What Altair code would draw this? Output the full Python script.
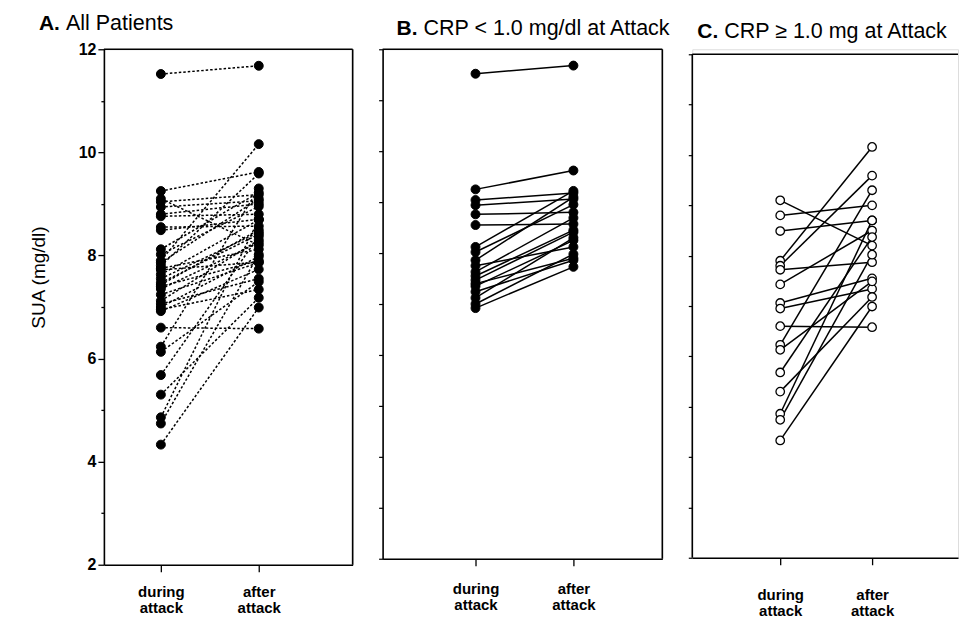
import altair as alt
import pandas as pd

# ---- data (SUA mg/dl, during attack -> after attack) ----
B_during = [11.52, 9.25, 9.04, 8.94, 8.76, 8.55, 8.12, 8.02, 7.86, 7.75, 7.63, 7.55, 7.47, 7.40, 7.35, 7.24, 7.12, 7.00, 6.92]
B_after = [11.68, 9.62, 9.18, 9.06, 8.80, 8.57, 9.22, 8.95, 9.10, 8.12, 8.69, 8.45, 8.41, 7.90, 8.25, 7.86, 8.30, 7.98, 7.73]
C_during = [9.10, 8.80, 8.49, 7.90, 7.80, 7.72, 7.43, 7.06, 6.95, 6.60, 6.23, 6.13, 5.68, 5.30, 4.86, 4.74, 4.33]
C_after = [8.20, 9.00, 8.70, 10.16, 9.59, 7.87, 8.50, 7.55, 7.34, 6.58, 9.30, 7.49, 8.37, 7.18, 8.70, 8.02, 6.99]

x_labels = ["during attack", "after attack"]
y_major = [2, 4, 6, 8, 10, 12]
panel_letters = ["A.", "B.", "C."]
panel_titles = ["All Patients", "CRP < 1.0 mg/dl at Attack", "CRP \u2265 1.0 mg at Attack"]
y_title = "SUA (mg/dl)"

FONT = "Liberation Sans"


def long_df(during, after, prefix):
    rows = []
    for i, (d, a) in enumerate(zip(during, after)):
        rows.append({"id": f"{prefix}{i}", "phase": 0, "sua": d})
        rows.append({"id": f"{prefix}{i}", "phase": 1, "sua": a})
    return pd.DataFrame(rows)


dfB = long_df(B_during, B_after, "b")
dfC = long_df(C_during, C_after, "c")
dfA = pd.concat([dfB, dfC], ignore_index=True)

lab0 = x_labels[0].split(" ")
lab1 = x_labels[1].split(" ")
label_expr = f"datum.value == 0 ? ['{lab0[0]}','{lab0[1]}'] : ['{lab1[0]}','{lab1[1]}']"


def make_panel(df, idx, xdom, width, height, ydom, dashed, open_pts, main_axis,
               label_pad, title_x, title_y, right_border, draw_left_rule):
    x_axis = alt.Axis(values=[0, 1], labelExpr=label_expr, title=None, tickSize=7,
                      tickColor="black", tickWidth=1.3, domainColor="black", domainWidth=1.6,
                      labelFont=FONT, labelFontSize=15, labelFontWeight="bold", labelColor="black",
                      labelPadding=label_pad, labelLineHeight=16, labelFlush=False,
                      labelOverlap=False, grid=False)
    if main_axis:
        y_axis = alt.Axis(values=list(range(2, 13)),
                          labelExpr="datum.value % 2 == 0 ? datum.label : ''",
                          tickSize={"condition": {"test": "datum.value % 2 == 1", "value": 3}, "value": 6},
                          tickColor="black", tickWidth=1.3, domainColor="black", domainWidth=1.6,
                          labelFont=FONT, labelFontSize=16, labelFontWeight="bold", labelColor="black",
                          labelPadding=2, grid=False, title=y_title, titleFont=FONT,
                          titleFontSize=19, titleFontWeight="normal", titleColor="black",
                          titlePadding=30, titleY=228, titleAlign="center")
    else:
        y_axis = alt.Axis(values=list(range(2, 13)), labels=False, tickSize=4,
                          tickColor="black", tickWidth=1.2, domain=not draw_left_rule,
                          domainColor="black", domainWidth=1.6, grid=False, title=None)

    x = alt.X("phase:Q", scale=alt.Scale(domain=xdom, nice=False, zero=False), axis=x_axis)
    y = alt.Y("sua:Q", scale=alt.Scale(domain=ydom, nice=False, zero=False), axis=y_axis)

    line_kw = dict(color="black", strokeWidth=1.5)
    if dashed:
        line_kw["strokeDash"] = [2.5, 2]
    lines = alt.Chart(df).mark_line(**line_kw).encode(x=x, y=y, detail="id:N")

    if open_pts:
        pts = alt.Chart(df).mark_point(shape="circle", filled=True, fill="white", stroke="black",
                                       strokeWidth=1.3, size=72, opacity=1).encode(x=x, y=y)
    else:
        pts = alt.Chart(df).mark_point(shape="circle", filled=True, fill="black", stroke="black",
                                       strokeWidth=1, size=80, opacity=1).encode(x=x, y=y)

    one = pd.DataFrame({"letter": [panel_letters[idx]], "rest": [panel_titles[idx]]})
    layers = [lines, pts]

    # frame: top border (and left border for panel C)
    if draw_left_rule:
        layers.append(alt.Chart(one).mark_rule(color="black", strokeWidth=1.6).encode(
            x=alt.value(0), x2=alt.value(width), y=alt.datum(12)))
        layers.append(alt.Chart(one).mark_rule(color="black", strokeWidth=1.6).encode(
            x=alt.value(0), y=alt.datum(ydom[0]), y2=alt.datum(12)))
    else:
        layers.append(alt.Chart(one).mark_rule(color="black", strokeWidth=1.6).encode(
            x=alt.value(0), x2=alt.value(width), y=alt.value(0)))
    if right_border:
        layers.append(alt.Chart(one).mark_rule(color="black", strokeWidth=1.6).encode(
            x=alt.value(width), y=alt.value(0), y2=alt.value(height)))

    layers.append(alt.Chart(one).mark_text(align="left", baseline="middle", font=FONT, fontSize=21,
                                           fontWeight="bold", color="black").encode(
        text="letter:N", x=alt.value(title_x), y=alt.value(title_y)))
    layers.append(alt.Chart(one).mark_text(align="left", baseline="middle", font=FONT, fontSize=21.5,
                                           fontWeight="normal", color="black").encode(
        text="rest:N", x=alt.value(title_x + 27), y=alt.value(title_y)))

    return alt.layer(*layers).properties(width=width, height=height)


pA = make_panel(dfA, 0, [-0.582, 1.959], 249, 516, [2, 12], True, False, True,
                13, -65, -25, True, False)
pB = make_panel(dfB, 1, [-0.949, 1.908], 280, 510, [2, 12], False, False, False,
                16, 14, -20, True, False)
pC = make_panel(dfC, 2, [-0.957, 1.935], 266, 509, [2, 12.1], False, True, False,
                23, 5, -17, False, True)

chart = alt.hconcat(pA, pB, pC, spacing=30, bounds="flush").properties(
    padding={"left": 20, "top": 4, "right": 0, "bottom": 0}
).configure_view(stroke=None).configure(background="white")

chart.save("out.html", embed_options={"renderer": "svg", "actions": False})
